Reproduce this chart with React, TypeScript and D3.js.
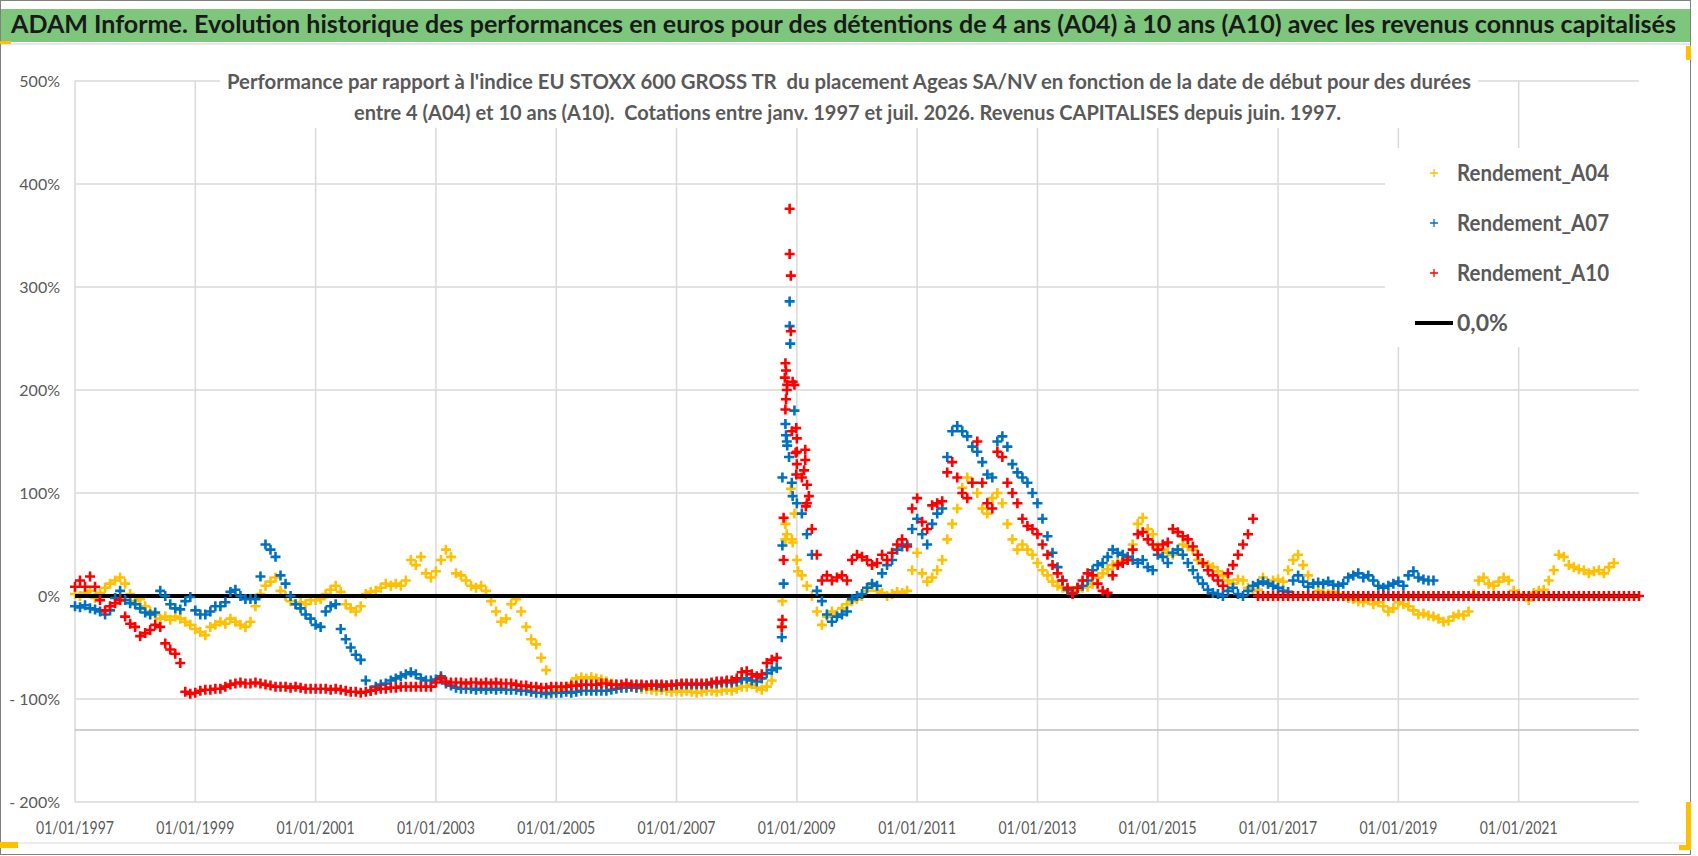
import React, { useRef, useEffect } from "react";
import * as d3 from "d3";

// monthly values (%), first value = January 1997
const a04Monthly = [
  2, 0, 3, 5, -2, 3, 8, 12, 15, 18, 12, 2,
  -5, -3, -10, -15, -18, -22, -20, -23, -20, -22, -25, -28,
  -32, -35, -38, -30, -28, -25, -27, -22, -25, -28, -30, -25,
  -10, 2, 10, 14, 18, 5, 0, -5, -8, -6, -8, -4,
  -4, -3, 2, 6, 10, 4, -8, -12, -15, -10, 2, 4,
  5, 8, 12, 10, 12, 10, 15, 35, 30, 38, 22, 18,
  24, 35, 45, 38, 22, 20, 15, 10, 8, 10, 5, -5,
  -15, -25, -22, -8, -3, -15, -30, -42, -47, -60, -72, -95,
  -92, -90, -88, -85, -80, -79, -80, -79, -80, -81, -83, -85,
  -86, -87, -88, -88, -89, -90, -90, -91, -92, -91, -92, -93,
  -92, -93, -92, -93, -94, -93, -92, -92, -93, -92, -91, -92,
  -90, -88, -88, -86, -89, -91, -88, -82, -70, -30, 60, 55,
  35, 20, 10, 0, -15, -28, -20, -15, -18, -12, -8, -5,
  -3, 0, 5, 10, 5, 3, 0, 2, 4, 3, 5, 25,
  42, 22, 14, 18, 25, 35, 55, 70, 85, 105, 115, 110,
  100, 85, 80, 95, 100, 90, 70, 55, 45, 50, 45, 40,
  32, 25, 20, 14, 10, 8, 5, 5, 6, 8, 9, 12,
  18, 22, 26, 30, 32, 34, 36, 50, 70, 76, 65, 60,
  48, 45, 42, 40, 45, 50, 48, 45, 35, 32, 30, 28,
  24, 20, 15, 12, 16, 15, 8, 5, 6, 18, 12, 15,
  16, 14, 25, 35, 40, 30, 20, 12, 5, 3, 2, 4,
  2, 0, -2, -3, -5, -6, -4, -8, -6, -10, -15, -12,
  -6, -8, -10, -14, -18, -17, -19, -20, -22, -25, -24, -20,
  -18, -19, -15, 2, 15, 18, 12, 10, 14, 18, 15, 5,
  2, 0, -4, 3, 5, 6, 15, 25, 40, 38, 30, 28,
  26, 25, 22, 24, 25, 22, 28, 32,
];

const a07Monthly = [
  -10, -11, -9, -12, -13, -15, -18, -14, -2, 5, -4, -7,
  -8, -12, -16, -18, -16, 5, 0, -8, -12, -13, -5, -1,
  -14, -18, -18, -15, -10, -10, -6, 4, 6, 0, -3, -3,
  -3, 19, 50, 45, 38, 20, 12, 0, -8, -12, -18, -22,
  -28, -30, -15, -10, -8, -32, -42, -50, -57, -62, -82, -92,
  -88, -86, -85, -82, -80, -78, -76, -74, -76, -80, -82, -82,
  -81, -78, -85, -87, -89, -90, -90, -90, -91, -90, -91, -90,
  -91, -90, -91, -91, -91, -92, -92, -93, -94, -94, -95, -94,
  -94, -94, -93, -94, -93, -92, -92, -92, -92, -92, -92, -91,
  -90, -89, -89, -88, -89, -88, -87, -87, -87, -88, -87, -87,
  -86, -86, -86, -86, -86, -86, -86, -85, -85, -84, -84, -84,
  -83, -81, -80, -82, -83, -80, -75, -72, -70, -40, 150, 110,
  90, 80, 60, 40, 5, -5, -18, -25, -20, -18, -15, -3,
  0, 2, 8, 12, 10, 22, 30, 35, 45, 48, 50, 65,
  75, 60, 50, 70, 80, 85, 135, 160, 165, 160, 155, 145,
  140, 130, 118, 115, 150, 155, 145, 128, 120, 115, 110, 100,
  90, 75, 58, 42, 28, 15, 6, 3, 8, 10, 15, 25,
  30, 32, 38, 45, 42, 40, 38, 35, 32, 35, 28, 25,
  40, 38, 32, 42, 45, 40, 32, 25, 18, 12, 6, 3,
  2, 0, 5, 8, 2, 0, 5, 10, 12, 14, 12, 10,
  8, 5, 4, 15, 20, 14, 9, 12, 13, 12, 14, 11,
  10, 12, 18, 20, 22, 18, 20, 15, 10, 8, 10, 12,
  14, 10, 20, 24, 18, 16, 15, 15,
];

const a10Monthly = [
  9, 15, 9, 19, 9, -4, -14, -10, -7, -4, -20, -27,
  -30, -39, -36, -33, -28, -30, -46, -52, -56, -65, -93, -95,
  -94, -92, -91, -91, -90, -90, -88, -86, -85, -84, -85, -85,
  -84, -85, -86, -87, -88, -88, -88, -89, -88, -89, -90, -90,
  -90, -90, -90, -91, -90, -91, -92, -93, -93, -94, -93, -92,
  -91, -90, -90, -89, -89, -88, -88, -88, -88, -88, -88, -88,
  -84, -80, -83, -84, -84, -84, -85, -84, -84, -85, -84, -85,
  -84, -85, -85, -85, -86, -87, -87, -88, -88, -89, -89, -88,
  -88, -88, -88, -87, -87, -86, -86, -86, -86, -85, -85, -86,
  -86, -86, -85, -86, -86, -86, -87, -86, -86, -86, -87, -86,
  -86, -85, -85, -85, -85, -85, -85, -84, -83, -83, -82, -82,
  -80, -74, -73, -76, -78, -76, -65, -62, -60, -30, 200, 160,
  140, 115, 90, 65, 40, 15, 20, 15, 18, 20, 15, 35,
  40, 38, 35, 30, 32, 40, 35, 42, 50, 55, 48, 85,
  95, 72, 65, 88, 90, 92, 120, 130, 115, 100, 95, 110,
  150, 110, 90, 85, 140, 135, 110, 100, 90, 75, 68, 65,
  60, 50, 40, 30, 22, 15, 8, 2, 8, 15, 22, 20,
  12, 5, 3, 20, 30, 32, 35, 45, 60, 62, 55, 50,
  45, 50, 52, 65, 62, 58, 55, 48, 40, 32, 25, 20,
  15, 10, 22, 30, 40, 50, 60, 75,
  // no 10-year window left: shown as 0 from Sept 2016 to Jan 2023
  0, 0, 0, 0,
  0, 0, 0, 0, 0, 0, 0, 0, 0, 0, 0, 0,
  0, 0, 0, 0, 0, 0, 0, 0, 0, 0, 0, 0,
  0, 0, 0, 0, 0, 0, 0, 0, 0, 0, 0, 0,
  0, 0, 0, 0, 0, 0, 0, 0, 0, 0, 0, 0,
  0, 0, 0, 0, 0, 0, 0, 0, 0, 0, 0, 0,
  0, 0, 0, 0, 0, 0, 0, 0, 0, 0, 0, 0,
  0,
];

// scattered points of the autumn 2008 crash: [decimal year, %]
const a04Crash: [number, number][] = [
  [2008.76, -5], [2008.81, 70], [2008.81, 55], [2008.9, 104],
  [2008.96, 80], [2008.93, 52], [2009.02, 24],
];
const a07Crash: [number, number][] = [
  [2008.76, 49], [2008.78, 12], [2008.76, 115], [2008.81, 167],
  [2008.82, 156], [2008.84, 146], [2008.87, 135], [2008.88, 286],
  [2008.88, 262], [2008.89, 245], [2008.96, 180], [2008.93, 97],
];
const a10Crash: [number, number][] = [
  [2008.76, -23], [2008.78, 35], [2008.78, 76], [2008.81, 226],
  [2008.82, 219], [2008.8, 212], [2008.84, 205], [2008.93, 208],
  [2008.96, 205], [2008.82, 191], [2008.81, 181], [2008.88, 376],
  [2008.88, 332], [2008.9, 311], [2008.9, 257], [2008.99, 163],
  [2009.0, 153], [2008.98, 139], [2009.0, 128], [2008.99, 118],
  [2009.14, 142], [2009.14, 132], [2009.12, 122], [2009.17, 108],
  [2009.2, 97], [2009.15, 87],
];

const zeroLine: [number, number][] = [[1997, 0], [2023, 0]];

const yTickValues = [-200, -100, 0, 100, 200, 300, 400, 500];
const xTickYears = [1997, 1999, 2001, 2003, 2005, 2007, 2009, 2011, 2013, 2015, 2017, 2019, 2021];
const axisCrossing = -130;

const seriesNames = ["Rendement_A04", "Rendement_A07", "Rendement_A10"];
const zeroName = "0,0%";

const title =
  "ADAM Informe. Evolution historique des performances en euros pour des détentions de 4 ans (A04) à 10 ans (A10) avec les revenus connus capitalisés";
const subtitle1 =
  "Performance par rapport à l'indice EU STOXX 600 GROSS TR  du placement Ageas SA/NV en fonction de la date de début pour des durées";
const subtitle2 =
  "entre 4 (A04) et 10 ans (A10).  Cotations entre janv. 1997 et juil. 2026. Revenus CAPITALISES depuis juin. 1997.";

const colors = ["#FFC000", "#0070C0", "#FF0000"];
const FONT = "Lato, 'Open Sans', sans-serif";

const toPoints = (monthly: number[]): [number, number][] =>
  monthly.map((v, i) => [1997 + i / 12, v]);

function App() {
  const svgRef = useRef<SVGSVGElement>(null);
  const width = 1698;
  const height = 856;

  useEffect(() => {
    if (!svgRef.current) return;
    const svg = d3.select(svgRef.current);
    svg.selectAll("*").remove();

    const x = d3.scaleLinear().domain([1997, 2023]).range([75, 1639]);
    const y = d3.scaleLinear().domain([-200, 500]).range([802, 81]);

    svg.append("rect").attr("width", width).attr("height", height).attr("fill", "#fff");

    // banner
    svg.append("rect").attr("x", 0).attr("y", 9).attr("width", 1690).attr("height", 33).attr("fill", "#7dc67b");
    svg
      .append("text")
      .attr("x", 11)
      .attr("y", 33)
      .attr("font-family", FONT)
      .attr("font-size", 25)
      .attr("font-weight", 700)
      .attr("fill", "#1a1a1a")
      .attr("textLength", 1665)
      .attr("lengthAdjust", "spacingAndGlyphs")
      .text(title);
    svg.append("line").attr("x1", 0).attr("x2", 1690).attr("y1", 44).attr("y2", 44).attr("stroke", "#d0d0d0");

    // gridlines
    svg
      .append("g")
      .selectAll("line")
      .data(yTickValues)
      .join("line")
      .attr("x1", x(1997))
      .attr("x2", x(2023))
      .attr("y1", (d) => y(d))
      .attr("y2", (d) => y(d))
      .attr("stroke", "#d9d9d9")
      .attr("stroke-width", 1.5);
    svg
      .append("g")
      .selectAll("line")
      .data(xTickYears)
      .join("line")
      .attr("x1", (d) => x(d))
      .attr("x2", (d) => x(d))
      .attr("y1", y(500))
      .attr("y2", y(-200))
      .attr("stroke", "#d9d9d9")
      .attr("stroke-width", 1.5);
    svg
      .append("line")
      .attr("x1", x(1997))
      .attr("x2", x(2023))
      .attr("y1", y(axisCrossing))
      .attr("y2", y(axisCrossing))
      .attr("stroke", "#bfbfbf")
      .attr("stroke-width", 1.5);

    // axis labels
    svg
      .append("g")
      .selectAll("text")
      .data(yTickValues)
      .join("text")
      .attr("x", 60)
      .attr("y", (d) => y(d) + 6)
      .attr("text-anchor", "end")
      .attr("font-family", FONT)
      .attr("font-size", 16)
      .attr("fill", "#595959")
      .text((d) => (d < 0 ? `- ${-d}%` : `${d}%`));
    svg
      .append("g")
      .selectAll("text")
      .data(xTickYears)
      .join("text")
      .attr("x", (d) => x(d) - 39)
      .attr("y", 834)
      .attr("font-family", FONT)
      .attr("font-size", 17)
      .attr("fill", "#595959")
      .attr("textLength", 78)
      .attr("lengthAdjust", "spacingAndGlyphs")
      .text((d) => `01/01/${d}`);

    const plus = (pts: [number, number][], s: number) =>
      pts
        .map(([t, v]) => {
          const px = x(t);
          const py = y(v);
          return `M${px - s},${py}H${px + s}M${px},${py - s}V${py + s}`;
        })
        .join("");

    const drawSeries = (pts: [number, number][], color: string) =>
      svg
        .append("path")
        .attr("d", plus(pts, 5))
        .attr("stroke", color)
        .attr("stroke-width", 2.6)
        .attr("fill", "none");

    drawSeries([...toPoints(a04Monthly), ...a04Crash], colors[0]);

    const line = d3
      .line<[number, number]>()
      .x((d) => x(d[0]))
      .y((d) => y(d[1]));
    svg
      .append("path")
      .datum(zeroLine)
      .attr("d", line)
      .attr("stroke", "#000")
      .attr("stroke-width", 4)
      .attr("fill", "none");

    drawSeries([...toPoints(a07Monthly), ...a07Crash], colors[1]);
    drawSeries([...toPoints(a10Monthly), ...a10Crash], colors[2]);

    // subtitle box
    svg.append("rect").attr("x", 220).attr("y", 64).attr("width", 1258).attr("height", 64).attr("fill", "#fff");
    const sub = (txt: string, sx: number, sy: number, len: number) =>
      svg
        .append("text")
        .attr("x", sx)
        .attr("y", sy)
        .attr("font-family", FONT)
        .attr("font-size", 21)
        .attr("font-weight", 700)
        .attr("fill", "#595959")
        .attr("textLength", len)
        .attr("lengthAdjust", "spacingAndGlyphs")
        .style("white-space", "pre")
        .text(txt);
    sub(subtitle1, 227, 89, 1244);
    sub(subtitle2, 354, 120, 987);

    // legend
    const lg = svg.append("g");
    lg.append("rect").attr("x", 1385).attr("y", 148).attr("width", 255).attr("height", 199).attr("fill", "#fff");
    seriesNames.forEach((name, i) => {
      const cy = 173 + i * 50;
      lg.append("path")
        .attr("d", `M1430,${cy}H1438M1434,${cy - 4}V${cy + 4}`)
        .attr("stroke", colors[i])
        .attr("stroke-width", 1.3);
      lg.append("text")
        .attr("x", 1457)
        .attr("y", cy + 8)
        .attr("font-family", FONT)
        .attr("font-size", 23)
        .attr("font-weight", 700)
        .attr("fill", "#595959")
        .attr("textLength", 152)
        .attr("lengthAdjust", "spacingAndGlyphs")
        .text(name);
    });
    lg.append("line").attr("x1", 1415).attr("x2", 1453).attr("y1", 323).attr("y2", 323).attr("stroke", "#000").attr("stroke-width", 4);
    lg.append("text")
      .attr("x", 1457)
      .attr("y", 331)
      .attr("font-family", FONT)
      .attr("font-size", 23)
      .attr("font-weight", 700)
      .attr("fill", "#595959")
      .text(zeroName);

    // frame and selection handles
    svg.append("line").attr("x1", 0).attr("x2", 1690).attr("y1", 843).attr("y2", 843).attr("stroke", "#d9d9d9");
    svg
      .append("rect")
      .attr("x", 0.5)
      .attr("y", 0.5)
      .attr("width", 1690)
      .attr("height", 854)
      .attr("fill", "none")
      .attr("stroke", "#808080");
    svg.append("rect").attr("x", 0).attr("y", 842).attr("width", 18).attr("height", 6).attr("fill", "#FFC000");
    svg.append("rect").attr("x", 0).attr("y", 41).attr("width", 11).attr("height", 3).attr("fill", "#FFC000");
    svg.append("rect").attr("x", 1686).attr("y", 802).attr("width", 5).attr("height", 48).attr("fill", "#FFC000");
    svg.append("rect").attr("x", 1679).attr("y", 845).attr("width", 12).attr("height", 5).attr("fill", "#FFC000");
    svg.append("rect").attr("x", 1686).attr("y", 46).attr("width", 5).attr("height", 14).attr("fill", "#FFC000");
  }, []);

  return (
    <div>
      <svg
        ref={svgRef}
        width={width}
        height={height}
        style={{ position: "absolute", left: 0, top: 0, display: "block" }}
      />
    </div>
  );
}

export default App;
